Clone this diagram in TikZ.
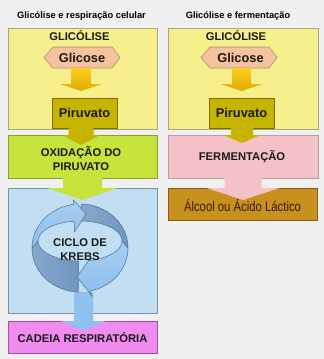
\documentclass[tikz,border=0pt]{standalone}
\usepackage{fontspec}
\setmainfont{Liberation Sans}
\newfontfamily\narrowfont[FakeStretch=0.82]{Liberation Sans}
\usetikzlibrary{calc}
\definecolor{bgc}{HTML}{F0F0F0}
\definecolor{yel}{HTML}{F5F08C}
\definecolor{yelb}{HTML}{A8A880}
\definecolor{peach}{HTML}{F7C39F}
\definecolor{peachb}{HTML}{B88A6A}
\definecolor{goldt}{HTML}{F8D020}
\definecolor{goldb}{HTML}{E8A800}
\definecolor{olive}{HTML}{C6B400}
\definecolor{oliveb}{HTML}{7A7000}
\definecolor{lgreen}{HTML}{C6E43C}
\definecolor{lgreenb}{HTML}{8AA030}
\definecolor{lblue}{HTML}{C2DEF2}
\definecolor{lblueb}{HTML}{7890A8}
\definecolor{ringl}{HTML}{8EBDE9}
\definecolor{ringlt}{HTML}{A6CEF2}
\definecolor{ringd}{HTML}{7096BE}
\definecolor{ringdt}{HTML}{86A8CC}
\definecolor{ringedge}{HTML}{4F6F94}
\definecolor{barrow}{HTML}{90C0EE}
\definecolor{mag}{HTML}{F08CF0}
\definecolor{magb}{HTML}{A050A0}
\definecolor{pinkc}{HTML}{F4C2C6}
\definecolor{pinkb}{HTML}{B8A0A0}
\definecolor{brn}{HTML}{C8901C}
\definecolor{brnb}{HTML}{806020}
\definecolor{brntxt}{HTML}{3C1A00}
% block arrow: [style]{source}{head base}{half shaft}{half head}{head length}
\newcommand\blkarrow[6][]{%
  \path[#1] let \p1=(#2), \p2=(#3) in
    (\x1-#4,\y1) -- (\x1+#4,\y1) -- (\x1+#4,\y2) -- (\x1+#5,\y2) --
    (\x1,\y2-#6) -- (\x1-#5,\y2) -- (\x1-#4,\y2) -- cycle;}
\begin{document}
\begin{tikzpicture}[x=1pt,y=-1pt,
  boxst/.style={draw=#1, line width=0.6pt, inner sep=0pt, outer sep=0pt},
  ttl/.style={font=\bfseries\fontsize{9.3}{11}\selectfont, anchor=base, inner sep=0pt, text=black},
  caps/.style={font=\bfseries\fontsize{11.2}{13}\selectfont, anchor=base, inner sep=0pt, text=black!90},
  mid/.style={font=\bfseries\fontsize{12.8}{14}\selectfont, inner sep=0pt, text=black!90},
  hexst/.style={fill=peach, draw=peachb, line width=0.6pt},
  ringdark/.style={left color=ringdt, right color=ringd, draw=ringedge, line width=0.5pt},
  ringlight/.style={top color=ringlt, bottom color=ringl, draw=ringedge, line width=0.5pt}]
\useasboundingbox (0,0) rectangle (324,359);
\fill[bgc] (0,0) rectangle (324,359);

% titles
\node[ttl] (t1) at (81.5,18.3) {Glicólise e respiração celular};
\node[ttl] (t2) at (238,18.3) {Glicólise e fermentação};

% glycolysis boxes
\node[boxst=yelb, fill=yel, minimum width=149pt, minimum height=101pt] (gly1) at (82.5,78.5) {};
\node[boxst=yelb, fill=yel, minimum width=150pt, minimum height=101pt] (gly2) at (243,78.5) {};
\node[caps] (gl1) at (79.5,40) {GLICÓLISE};
\node[caps] (gl2) at (236,40) {GLICÓLISE};

% glucose hexagons
\path[hexst] (53,47) -- (112,47) -- (120,57.5) -- (112,68) -- (53,68) -- (44,57.5) -- cycle;
\node[mid, minimum width=59pt, minimum height=21pt] (glc1) at (82,57.5) {Glicose};
\path[hexst] (210,47) -- (269,47) -- (277,57.5) -- (269,68) -- (210,68) -- (201,57.5) -- cycle;
\node[mid, minimum width=59pt, minimum height=21pt] (glc2) at (240.5,57.5) {Glicose};

% pyruvate boxes
\node[boxst=oliveb, fill=olive, mid, minimum width=65pt, minimum height=30pt] (pir1) at (84.5,113) {Piruvato};
\node[boxst=oliveb, fill=olive, mid, minimum width=65pt, minimum height=30pt] (pir2) at (241.5,113) {Piruvato};

% glucose -> pyruvate arrows
\blkarrow[top color=goldt, bottom color=goldb]{$(glc1.south)+(-1,0)$}{$(pir1.north)+(0,-14)$}{10pt}{21pt}{7pt}
\blkarrow[top color=goldt, bottom color=goldb]{$(glc2.south)+(1,0)$}{$(pir2.north)+(0,-14)$}{9.5pt}{21pt}{7pt}

% second row
\node[boxst=lgreenb, fill=lgreen, minimum width=149pt, minimum height=43pt] (ox1) at (82.5,156.5) {};
\node[boxst=pinkb, fill=pinkc, minimum width=150pt, minimum height=43pt] (fer2) at (243,156.5) {};
\blkarrow[fill=olive]{$(pir1.south)+(-3.5,0)$}{ox1.north}{12.5pt}{19pt}{10pt}
\blkarrow[fill=olive]{$(pir2.south)+(0.5,0)$}{fer2.north}{11pt}{18.5pt}{8pt}
\node[caps] (ox1a) at (81,156.7) {OXIDAÇÃO DO};
\node[caps] (ox1b) at (81,170) {PIRUVATO};
\node[caps] (fer2t) at (242,160.7) {FERMENTAÇÃO};

% third row
\node[boxst=lblueb, fill=lblue, minimum width=149pt, minimum height=125pt] (kr1) at (82.5,250.5) {};
\node[boxst=brnb, fill=brn, minimum width=149pt, minimum height=32pt] (alc2) at (242.5,204) {};
\blkarrow[fill=lgreen]{ox1.south}{kr1.north}{19.5pt}{35pt}{12pt}
\blkarrow[fill=pinkc]{fer2.south}{alc2.north}{18.5pt}{36.5pt}{12pt}
\node[anchor=base, inner sep=0pt, font=\narrowfont\fontsize{13.8}{15}\selectfont, text=brntxt] (alc2t) at (242.5,211.7) {Álcool ou Ácido Láctico};

% respiratory chain
\node[boxst=magb, fill=mag, minimum width=149pt, minimum height=32pt] (cad1) at (82.5,337) {};
\coordinate (ringbot) at (83.5,292);
\blkarrow[fill=barrow]{ringbot}{cad1.north}{9.5pt}{22pt}{10pt}
\node[caps] (cad1t) at (82.5,342.7) {CADEIA RESPIRATÓRIA};

% Krebs cycle ring
\path[ringdark] plot[domain=272:360, samples=30] ({80+48*cos(\x)},{248+44*sin(\x)})
  -- plot[domain=360:272, samples=30] ({80+42*cos(\x)},{241+20*sin(\x)}) -- cycle;
\path[ringdark] plot[domain=92:180, samples=30] ({80+48*cos(\x)},{248+44*sin(\x)})
  -- plot[domain=180:92, samples=30] ({80+42*cos(\x)},{241+20*sin(\x)}) -- cycle;
\path[ringlight] plot[domain=180:262, samples=30] ({80+48*cos(\x)},{248+44*sin(\x)})
  -- (73.5,200) -- (86,214) -- (74.5,232)
  -- plot[domain=262:180, samples=30] ({80+42*cos(\x)},{241+20*sin(\x)}) -- cycle;
\path[ringlight] plot[domain=0:78, samples=30] ({80+48*cos(\x)},{248+44*sin(\x)})
  -- (92,296) -- (77,277) -- (91,257)
  -- plot[domain=78:0, samples=30] ({80+42*cos(\x)},{241+20*sin(\x)}) -- cycle;
\node[caps] (kr1a) at (80,246.7) {CICLO DE};
\node[caps] (kr1b) at (80,260) {KREBS};
\end{tikzpicture}
\end{document}
